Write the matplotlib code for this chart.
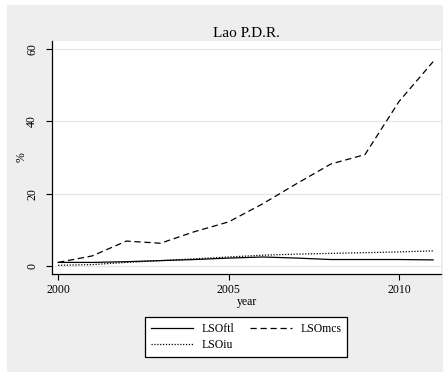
import matplotlib
matplotlib.use("Agg")
import matplotlib.pyplot as plt
from matplotlib.patches import Rectangle

plt.rcParams['font.family'] = ['Liberation Serif', 'DejaVu Serif']

## data ##
years = [2000, 2001, 2002, 2003, 2004, 2005, 2006, 2007, 2008, 2009, 2010, 2011]
lso_ftl = [1.0, 1.0, 1.2, 1.5, 1.8, 2.2, 2.5, 2.2, 1.8, 1.8, 1.8, 1.7]
lso_mcs = [1.0, 2.8, 6.9, 6.3, 9.5, 12.2, 17.2, 22.8, 28.2, 30.8, 45.5, 56.5]
lso_iu = [0.2, 0.4, 1.0, 1.5, 2.0, 2.5, 3.0, 3.3, 3.5, 3.7, 3.9, 4.2]
y_ticks = [0, 20, 40, 60]
x_ticks = [2000, 2005, 2010]

W, H = 445, 375
fig = plt.figure(figsize=(W / 100, H / 100), dpi=100)
fig.patch.set_facecolor('white')
# gray outer region like a stata graph
fig.patches.append(Rectangle((7 / W, 3 / H), 436 / W, 367 / H, transform=fig.transFigure,
                             facecolor='#eeeeee', edgecolor='none', zorder=-5))

ax = fig.add_axes([52 / W, 1 - 274 / H, 389 / W, 233 / H])
ax.set_facecolor('white')

l1, = ax.plot(years, lso_ftl, color='black', lw=0.9, label='LSOftl')
l2, = ax.plot(years, lso_mcs, color='black', lw=0.9, dashes=(5, 3), label='LSOmcs')
l3, = ax.plot(years, lso_iu, color='black', lw=0.9, dashes=(1, 1.3), label='LSOiu')

ax.set_xlim(1999.82, 2011.23)
ax.set_ylim(-2.2, 62.2)
ax.set_yticks(y_ticks)
ax.set_xticks(x_ticks)
ax.set_yticklabels([str(v) for v in y_ticks], rotation=90, va='center', fontsize=8.5)
ax.set_xticklabels([str(v) for v in x_ticks], fontsize=8.5)
ax.tick_params(direction='out', length=4, width=0.8, pad=3)
ax.tick_params(axis='y', pad=6)
ax.grid(axis='y', color='#e6e6e6', lw=1.0)
ax.set_axisbelow(True)

for s in ['top', 'right']:
    ax.spines[s].set_visible(False)
ax.spines['left'].set_linewidth(0.9)
ax.spines['bottom'].set_linewidth(0.9)

ax.set_title('Lao P.D.R.', fontsize=11, pad=3)
ax.set_xlabel('year', fontsize=8.5, labelpad=0)
ax.set_ylabel('%', fontsize=8.5)
ax.yaxis.set_label_coords(-0.062, 0.5)

# legend filled row-wise: ftl, mcs / iu
leg = fig.legend([l1, l3, l2], ['LSOftl', 'LSOiu', 'LSOmcs'], loc='center',
                 bbox_to_anchor=(246 / W, 1 - 337 / H), ncol=2,
                 fontsize=8.5, frameon=True, fancybox=False, edgecolor='black', framealpha=1,
                 handlelength=3.6, handletextpad=0.7, columnspacing=1.3,
                 borderpad=0.5, labelspacing=0.4)
leg.get_frame().set_linewidth(0.9)

fig.savefig('out.png', dpi=100)
